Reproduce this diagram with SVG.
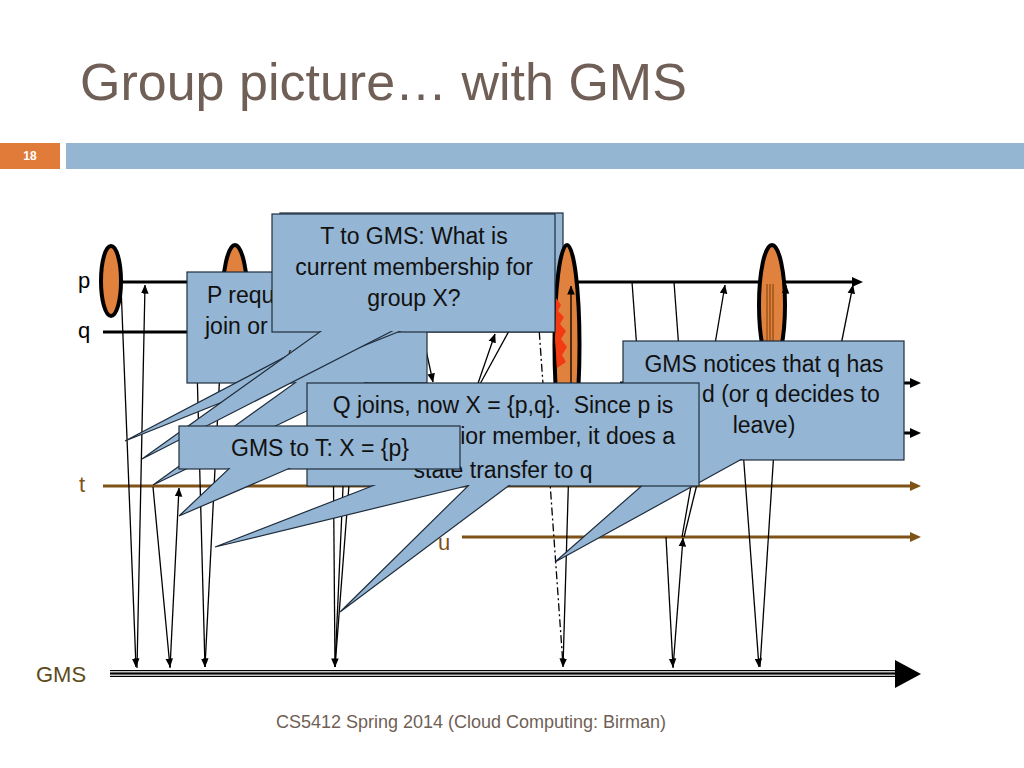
<svg xmlns="http://www.w3.org/2000/svg" width="1024" height="768" viewBox="0 0 1024 768">
<defs>
<marker id="ah" viewBox="0 0 10 10" refX="9.5" refY="5" markerWidth="9" markerHeight="9" markerUnits="userSpaceOnUse" orient="auto"><path d="M0,0.8 L10,5 L0,9.2 Z" fill="#000"/></marker>
<style>
.box{fill:#94b5d3;stroke:#1f2d3d;stroke-width:1.2}
.boxf{fill:#94b5d3}
.bt{font-family:"Liberation Sans",Arial,sans-serif;font-size:23px;fill:#111;text-anchor:middle}
.c{stroke:#000;stroke-width:1.3;fill:none}
.tl{stroke:#000;stroke-width:3;fill:none}
.br{stroke:#7f5217;stroke-width:3;fill:none}
.ov{fill:#e0823d;stroke:#000;stroke-width:4}
.lbl{font-family:"Liberation Sans",Arial,sans-serif;font-size:22px}
</style>
</defs>
<rect width="1024" height="768" fill="#fff"/>
<g id="header">
<text x="80" y="100" font-family="Liberation Sans,Arial,sans-serif" font-size="52" fill="#6f5f56">Group picture… with GMS</text>
<rect x="0" y="143" width="60" height="26" fill="#e07b39"/>
<text x="30" y="160" font-family="Liberation Sans,Arial,sans-serif" font-size="12" font-weight="bold" fill="#fff" text-anchor="middle">18</text>
<rect x="66" y="143" width="958" height="26" fill="#94b6d2"/>
<text x="471" y="728" font-family="Liberation Sans,Arial,sans-serif" font-size="18" fill="#6f5f56" text-anchor="middle">CS5412 Spring 2014 (Cloud Computing: Birman)</text>
</g>
<g id="labels">
<text class="lbl" x="78" y="288" fill="#000">p</text>
<text class="lbl" x="78" y="338" fill="#000">q</text>
<text class="lbl" x="79" y="492" fill="#7f5217">t</text>
<text class="lbl" x="438" y="550" fill="#7f5217">u</text>
<text class="lbl" x="36" y="682" fill="#5e4b1c">GMS</text>
</g>
<g id="timelines">
<line class="tl" x1="120" y1="282" x2="854" y2="282"/>
<polygon points="852,277 863,282 852,287" fill="#000"/>
<line class="tl" x1="103" y1="332" x2="200" y2="332"/>
<line class="tl" x1="620" y1="383" x2="912" y2="383"/>
<polygon points="910,378 921,383 910,388" fill="#000"/>
<line class="tl" x1="620" y1="433" x2="912" y2="433"/>
<polygon points="910,428 921,433 910,438" fill="#000"/>
<line class="br" x1="103" y1="486" x2="912" y2="486"/>
<polygon points="910,481 921,486 910,491" fill="#7f5217"/>
<line class="br" x1="462" y1="537" x2="912" y2="537"/>
<polygon points="910,532 921,537 910,542" fill="#7f5217"/>
<line x1="110" y1="673.5" x2="897" y2="673.5" stroke="#000" stroke-width="7"/>
<line x1="110" y1="671.8" x2="897" y2="671.8" stroke="#c8c8c8" stroke-width="1.4"/>
<line x1="110" y1="675.2" x2="897" y2="675.2" stroke="#c8c8c8" stroke-width="1.4"/>
<polygon points="895,660 921,674 895,688" fill="#000"/>
</g>
<g id="box-back">
<rect class="box" x="280" y="213" width="283" height="119"/>
</g>
<g id="ovals">
<ellipse class="ov" cx="111" cy="281" rx="10" ry="35"/>
<ellipse class="ov" cx="235" cy="305" rx="13" ry="60"/>
<ellipse class="ov" cx="567" cy="345" rx="12.5" ry="100"/>
<polygon points="556,298 561,305 558,311 564,317 560,324 566,331 561,339 567,347 562,355 566,362 557,368 555,340" fill="#f23b12"/>
<ellipse class="ov" cx="772" cy="305" rx="13" ry="60"/>
<g stroke="#8b4a10" stroke-width="1.2">
<line x1="767" y1="284" x2="767" y2="342"/>
<line x1="770" y1="284" x2="770" y2="342"/>
<line x1="773" y1="284" x2="773" y2="342"/>
</g>
</g>
<g id="connectors">
<line class="c" x1="121" y1="286" x2="136" y2="667" marker-end="url(#ah)"/>
<line class="c" x1="137" y1="668" x2="145" y2="285" marker-end="url(#ah)"/>
<line class="c" x1="153" y1="487" x2="170" y2="667" marker-end="url(#ah)"/>
<line class="c" x1="170" y1="668" x2="179" y2="488" marker-end="url(#ah)"/>
<line class="c" x1="196" y1="330" x2="205" y2="667" marker-end="url(#ah)"/>
<line class="c" x1="222" y1="330" x2="205" y2="667"/>
<line class="c" x1="333" y1="420" x2="335" y2="667" marker-end="url(#ah)"/>
<line class="c" x1="346" y1="420" x2="335" y2="667"/>
<line class="c" x1="354" y1="420" x2="335" y2="667"/>
<line class="c" x1="415" y1="300" x2="433" y2="382" marker-end="url(#ah)"/>
<line class="c" x1="474" y1="395" x2="495" y2="334" marker-end="url(#ah)"/>
<line class="c" x1="474" y1="395" x2="515" y2="320"/>
<line class="c" x1="537" y1="300" x2="563" y2="665" stroke-dasharray="8,3,2,3"/>
<line class="c" x1="571" y1="400" x2="571" y2="286" marker-end="url(#ah)"/>
<line class="c" x1="570" y1="430" x2="563" y2="667" marker-end="url(#ah)"/>
<line class="c" x1="632" y1="282" x2="637" y2="350"/>
<line class="c" x1="674" y1="282" x2="679" y2="350"/>
<line class="c" x1="714" y1="350" x2="725" y2="285" marker-end="url(#ah)"/>
<line class="c" x1="782" y1="350" x2="786" y2="285" marker-end="url(#ah)"/>
<line class="c" x1="840" y1="350" x2="853" y2="285" marker-end="url(#ah)"/>
<line class="c" x1="743" y1="450" x2="759" y2="667" marker-end="url(#ah)"/>
<line class="c" x1="774" y1="450" x2="760" y2="667" stroke-width="2"/>
<line class="c" x1="666" y1="537" x2="673" y2="667" marker-end="url(#ah)"/>
<line class="c" x1="673" y1="668" x2="683" y2="538" marker-end="url(#ah)"/>
<line class="c" x1="692" y1="480" x2="682" y2="537"/>
<line class="c" x1="698" y1="480" x2="684" y2="537"/>
</g>
<g id="callout-p">
<rect class="box" x="187" y="272" width="240" height="111"/>
<polygon class="box" points="303,377 377,377 153,485"/>
<rect class="boxf" x="188" y="273" width="238" height="109"/>
<text class="bt" x="207" y="303" style="text-anchor:start">P requ</text>
<text class="bt" x="205" y="334" style="text-anchor:start">join or</text>
<text class="bt" x="288" y="367" style="text-anchor:start">“</text>
</g>
<g id="callout-t">
<rect class="box" x="272" y="214" width="283" height="118"/>
<polygon class="box" points="344,326 413,326 125,441"/>
<polygon class="box" points="328,326 402,326 142,459"/>
<rect class="boxf" x="273" y="215" width="281" height="116"/>
<text class="bt" x="414" y="244">T to GMS: What is</text>
<text class="bt" x="414" y="275">current membership for</text>
<text class="bt" x="414" y="306">group X?</text>
</g>
<g id="callout-gms-notices">
<rect class="box" x="623" y="341" width="281" height="119"/>
<polygon class="box" points="678,454 751,454 555,562"/>
<rect class="boxf" x="624" y="342" width="279" height="117"/>
<text class="bt" x="764" y="372">GMS notices that q has</text>
<text class="bt" x="702" y="402" style="text-anchor:start">d (or q decides to</text>
<text class="bt" x="764" y="433">leave)</text>
</g>
<g id="callout-q">
<rect class="box" x="307" y="383" width="392" height="103"/>
<polygon class="box" points="385,481 487,481 215,547"/>
<polygon class="box" points="473,481 515,481 340,612"/>
<rect class="boxf" x="308" y="384" width="390" height="101"/>
<text class="bt" x="503" y="413">Q joins, now X = {p,q}.&#160; Since p is</text>
<text class="bt" x="675" y="444" style="text-anchor:end">ior member, it does a</text>
<text class="bt" x="503" y="478">state transfer to q</text>
</g>
<g id="callout-gms-t">
<rect class="box" x="179" y="426" width="281" height="43"/>
<polygon class="box" points="236,462 304,462 179,516"/>
<rect class="boxf" x="180" y="427" width="279" height="41"/>
<text class="bt" x="320" y="456">GMS to T: X = {p}</text>
</g>
</svg>
